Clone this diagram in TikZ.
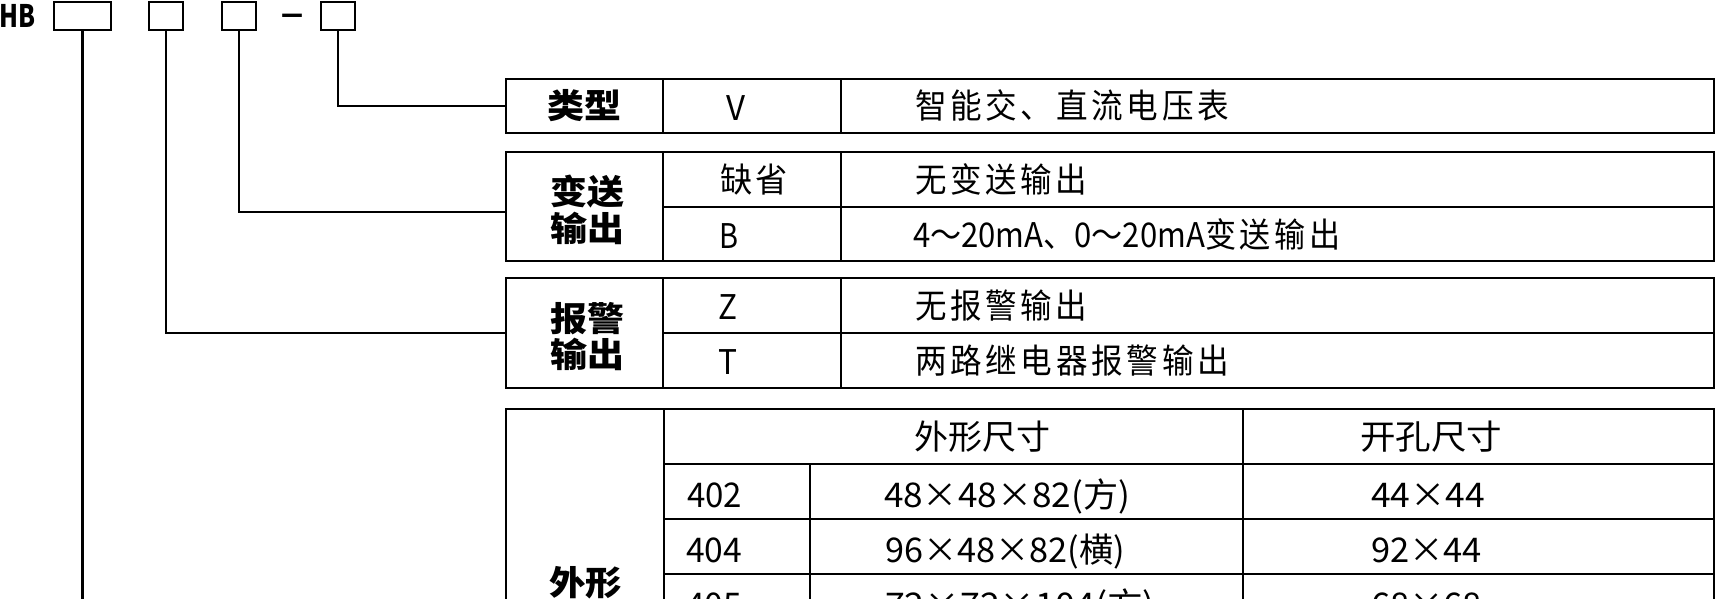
\documentclass[tikz,border=0pt]{standalone}
\usepackage{fontspec}
\usepackage{graphicx}
\setmainfont{Noto Sans CJK SC}
\tikzset{
  ln/.style={line width=2.8pt},
  txt/.style={anchor=base, inner sep=0pt, font=\fontsize{34}{40}\selectfont},
  bld/.style={font=\fontsize{34}{40}\selectfont\bfseries},
  codebox/.style={draw, line width=2.8pt, inner sep=0pt, minimum height=28pt},
}
% letter spacing of CJK runs
\def\lsp#1{\lspA#1\relax}
\def\lspA#1{\ifx#1\relax\else#1\hskip4pt\expandafter\lspA\fi}
% name, extra style, x-left, x-right, y-centre, text
\newcommand\tx[6]{\node[txt,#2] (#1) at ({(#3+#4)/2}, {#5+12.5}) {\resizebox{\dimexpr #4pt-#3pt\relax}{\height}{#6}};}
\begin{document}
\begin{tikzpicture}[x=1pt, y=-1pt]
\useasboundingbox (0,0) rectangle (1717,599);
\fill[white] (0,0) rectangle (1717,599);
\clip (0,0) rectangle (1717,599);

% code line
\node[anchor=base, inner sep=0pt, font=\fontsize{31}{36}\selectfont\bfseries] (hb) at (18,28) {\resizebox{36pt}{\height}{HB}};
\node[codebox, minimum width=57pt] (b1) at (82.5,16) {};
\node[codebox, minimum width=34pt] (b2) at (166,16) {};
\node[codebox, minimum width=34pt] (b3) at (239,16) {};
\node[anchor=base, inner sep=0pt, font=\fontsize{30}{36}\selectfont\bfseries] (dash) at (292,25) {\resizebox{24pt}{\height}{–}};
\node[codebox, minimum width=34pt] (b4) at (338,16) {};

% connector ends
\coordinate (c1) at (506,106);
\coordinate (c2) at (506,212);
\coordinate (c3) at (506,333);
\coordinate (c4) at (506,720);
\draw[ln] (b4.south) |- (c1);
\draw[ln] (b3.south) |- (c2);
\draw[ln] (b2.south) |- (c3);
\draw[ln] (b1.south) |- (c4);

% table 1
\draw[ln] (506,79) rectangle (1714,133);
\draw[ln] (663,79) -- (663,133) (841,79) -- (841,133);
% table 2
\draw[ln] (506,152) rectangle (1714,261);
\draw[ln] (663,152) -- (663,261) (841,152) -- (841,261) (663,207) -- (1714,207);
% table 3
\draw[ln] (506,278) rectangle (1714,388);
\draw[ln] (663,278) -- (663,388) (841,278) -- (841,388) (663,333) -- (1714,333);
% table 4
\draw[ln] (506,700) -- (506,409) -- (1714,409) -- (1714,700);
\draw[ln] (664,409) -- (664,700) (1243,409) -- (1243,700) (810,464) -- (810,700);
\draw[ln] (664,464) -- (1714,464) (664,519) -- (1714,519) (664,574) -- (1714,574) (664,629) -- (1714,629);

% texts table 1
\tx{t1a}{bld}{547}{621}{106}{类型}
\tx{t1b}{}{726}{745}{108}{V}
\tx{t1c}{}{915}{1233}{106}{\lsp{智能交、直流电压表}}
% table 2
\tx{t2a}{bld}{550}{624}{192}{变送}
\tx{t2b}{bld}{550}{624}{229}{输出}
\tx{t2c}{}{720}{792}{180}{\lsp{缺省}}
\tx{t2d}{}{915}{1091}{180}{\lsp{无变送输出}}
\tx{t2e}{}{719}{738}{236}{B}
\tx{t2f}{}{913}{1344}{235}{4～20mA、0～20mA\lsp{变送输出}}
% table 3
\tx{t3a}{bld}{550}{624}{319}{报警}
\tx{t3b}{bld}{550}{624}{355}{输出}
\tx{t3c}{}{718}{737}{307}{Z}
\tx{t3d}{}{915}{1091}{306}{\lsp{无报警输出}}
\tx{t3e}{}{718}{737}{362}{T}
\tx{t3f}{}{915}{1233}{361}{\lsp{两路继电器报警输出}}
% table 4
\tx{t4a}{bld}{549}{622}{583}{外形}
\tx{t4b}{}{914}{1050}{437}{外形尺寸}
\tx{t4c}{}{1360}{1502}{437}{开孔尺寸}
\tx{t4d}{}{687}{742}{495}{402}
\tx{t4e}{}{884}{1130}{495}{48×48×82(方)}
\tx{t4f}{}{1371}{1485}{495}{44×44}
\tx{t4g}{}{686}{742}{550}{404}
\tx{t4h}{}{885}{1125}{550}{96×48×82(横)}
\tx{t4i}{}{1371}{1482}{550}{92×44}
\tx{t4j}{}{686}{742}{605}{405}
\tx{t4k}{}{885}{1155}{605}{72×72×104(方)}
\tx{t4l}{}{1371}{1482}{605}{68×68}
\end{tikzpicture}
\end{document}
